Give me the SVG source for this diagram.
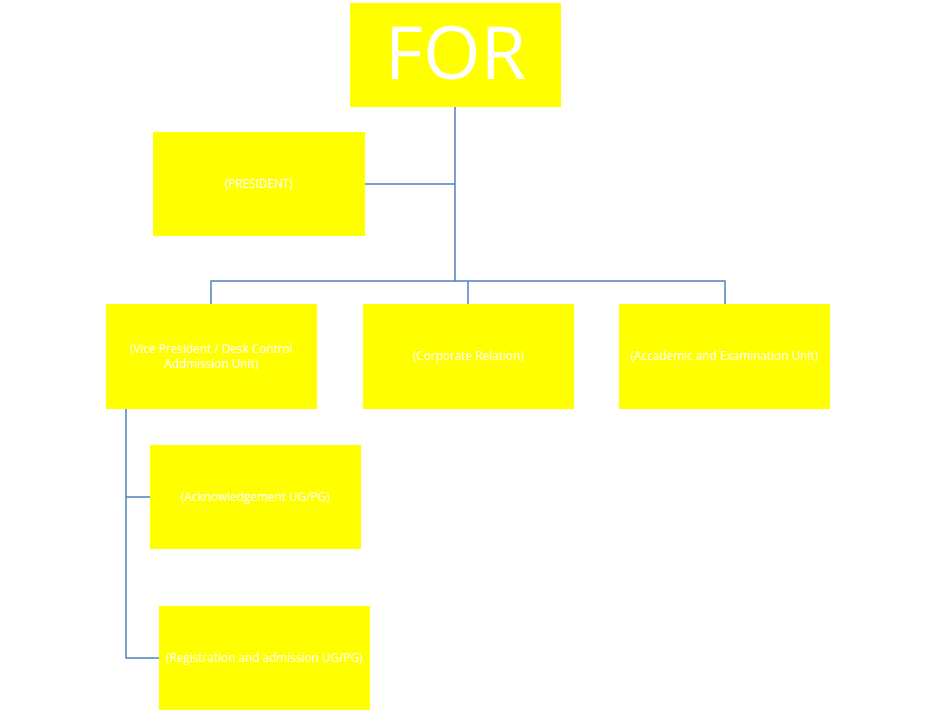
<svg xmlns="http://www.w3.org/2000/svg" width="936" height="712" viewBox="0 0 936 712">
<style>
.box{fill:#ffff00;}
.t{fill:#ffffff;font-family:"Open Sans","Liberation Sans",sans-serif;font-size:11.8px;text-anchor:middle;}
.big{fill:#ffffff;font-family:"Open Sans","Liberation Sans",sans-serif;font-size:74px;text-anchor:middle;}
.c{fill:none;stroke:#4f81bd;stroke-width:1.5;}
</style>
<rect width="936" height="712" fill="#ffffff"/>
<g id="connectors">
<path class="c" d="M455,107 V281 M365,184 H455 M211,304 V281 H725 V304 M468,281 V304"/>
<path class="c" d="M126,409 V658 H159 M126,497 H150"/>
</g>
<g id="n-for"><rect class="box" x="350" y="3" width="211" height="104"/><text class="big" x="455.5" y="79">FOR</text></g>
<g id="n-president"><rect class="box" x="153" y="132" width="212" height="104"/><text class="t" x="259" y="188">(PRESIDENT)</text></g>
<g id="n-vp"><rect class="box" x="106" y="304" width="211" height="105"/><text class="t" x="211.5" y="353">(Vice President / Desk Control</text><text class="t" x="211.5" y="367.5">Addmission Unit)</text></g>
<g id="n-corporate"><rect class="box" x="363" y="304" width="211" height="105"/><text class="t" x="468.5" y="360">(Corporate Relation)</text></g>
<g id="n-academic"><rect class="box" x="619" y="304" width="211" height="105"/><text class="t" x="724.5" y="360">(Accademic and Examination Unit)</text></g>
<g id="n-ack"><rect class="box" x="150" y="445" width="211" height="104"/><text class="t" x="255.5" y="501">(Acknowledgement UG/PG)</text></g>
<g id="n-reg"><rect class="box" x="159" y="606" width="211" height="104"/><text class="t" x="264.5" y="662">(Registration and admission UG/PG)</text></g>
</svg>
